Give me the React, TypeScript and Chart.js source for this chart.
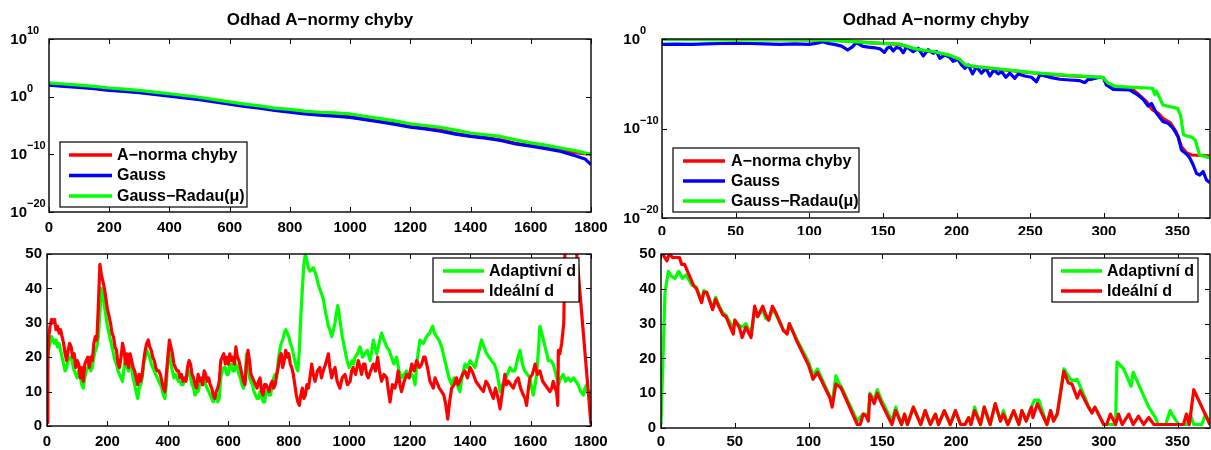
import React, { useEffect, useRef } from "react";
import { Chart, registerables } from "chart.js";

Chart.register(...registerables);

type Pt = [number, number];

// ---------------- Titles / labels ----------------
const TOP_TITLE = "Odhad A−normy chyby";
const LBL_NORM = "A−norma chyby";
const LBL_GAUSS = "Gauss";
const LBL_RADAU = "Gauss−Radau(μ)";
const LBL_ADAPT = "Adaptivní d";
const LBL_IDEAL = "Ideální d";

// ---------------- Tick values ----------------
const xTicksLong = [0, 200, 400, 600, 800, 1000, 1200, 1400, 1600, 1800];
const xTicksShort = [0, 50, 100, 150, 200, 250, 300, 350];
const yTicksLogLeft = [1e-20, 1e-10, 1, 1e10];
const yTicksLogRight = [1e-20, 1e-10, 1];
const yTicksLin = [0, 10, 20, 30, 40, 50];

// ---------------- Top-left: [iteration, log10(value)] ----------------
const tlNormLog: Pt[] = [
  [0, 2.1], [50, 1.9], [100, 1.7], [150, 1.5], [200, 1.2], [250, 1.0], [300, 0.8], [350, 0.5],
  [400, 0.2], [450, -0.1], [500, -0.4], [550, -0.8], [600, -1.2], [650, -1.6], [700, -1.9],
  [750, -2.3], [800, -2.6], [850, -2.9], [900, -3.1], [950, -3.3], [1000, -3.5], [1050, -3.9],
  [1100, -4.3], [1150, -4.7], [1200, -5.2], [1250, -5.5], [1300, -5.8], [1350, -6.4], [1400, -6.8],
  [1450, -7.1], [1500, -7.5], [1550, -8.1], [1600, -8.5], [1650, -8.9], [1700, -9.3], [1750, -9.7],
  [1800, -10.0],
];
const tlGaussLog: Pt[] = [
  [0, 2.0], [50, 1.8], [100, 1.6], [150, 1.4], [200, 1.1], [250, 0.9], [300, 0.7], [350, 0.4],
  [400, 0.1], [450, -0.2], [500, -0.5], [550, -0.9], [600, -1.3], [650, -1.7], [700, -2.0],
  [750, -2.4], [800, -2.7], [850, -3.0], [900, -3.2], [950, -3.4], [1000, -3.6], [1050, -4.0],
  [1100, -4.4], [1150, -4.8], [1200, -5.3], [1250, -5.6], [1300, -6.0], [1350, -6.5], [1400, -6.9],
  [1450, -7.2], [1500, -7.6], [1550, -8.2], [1600, -8.6], [1650, -9.0], [1700, -9.5], [1750, -10.3],
  [1780, -10.8], [1800, -11.8],
];
const tlRadauLog: Pt[] = [
  [0, 2.4], [50, 2.2], [100, 2.0], [150, 1.8], [200, 1.5], [250, 1.3], [300, 1.1], [350, 0.8],
  [400, 0.5], [450, 0.2], [500, -0.1], [550, -0.5], [600, -0.9], [650, -1.3], [700, -1.6],
  [750, -2.0], [800, -2.2], [850, -2.5], [900, -2.7], [950, -2.8], [1000, -3.0], [1050, -3.4],
  [1100, -3.8], [1150, -4.2], [1200, -4.7], [1250, -5.0], [1300, -5.3], [1350, -5.8], [1400, -6.3],
  [1450, -6.6], [1500, -6.9], [1550, -7.5], [1600, -8.0], [1650, -8.4], [1700, -8.9], [1750, -9.4],
  [1800, -10.0],
];

// ---------------- Top-right: [iteration, log10(value)] ----------------
const trNormLog: Pt[] = [
  [0, -0.05], [20, -0.05], [40, -0.06], [60, -0.07], [80, -0.08], [100, -0.1], [110, -0.12],
  [120, -0.18], [130, -0.3], [140, -0.4], [150, -0.5], [161, -0.6], [172, -1.15], [184, -1.45],
  [195, -1.85], [202, -2.3], [206, -2.95], [214, -3.15], [229, -3.4], [252, -3.8], [275, -4.1],
  [299, -4.3], [302, -4.95], [308.5, -5.4], [320, -5.68], [324, -6.26], [329, -7.0], [333, -7.93],
  [337, -8.3], [340, -8.86], [345, -9.35], [349, -10.36], [352.6, -12.0], [356, -12.7],
  [359.4, -12.96], [372, -13.07],
];
const trGaussLog: Pt[] = [
  [0, -0.6], [10, -0.58], [20, -0.6], [30, -0.55], [40, -0.5], [50, -0.48], [60, -0.5], [70, -0.55],
  [80, -0.6], [90, -0.55], [100, -0.6], [106, -0.45], [109, -0.3], [113, -0.5], [117, -0.6],
  [122, -0.8], [126, -1.23], [129, -0.9], [132, -0.4], [136, -0.8], [140, -0.9], [145, -1.0],
  [148, -1.1], [151, -1.5], [153, -1.0], [155, -0.9], [157, -1.35], [159, -0.95], [161.5, -1.04],
  [163.8, -1.53], [166, -0.86], [170.5, -1.42], [174, -1.04], [177.3, -1.9], [180.7, -1.2],
  [184.1, -1.6], [186.4, -1.4], [188.6, -2.16], [192, -1.79], [195.4, -2.05], [197.7, -2.5],
  [201, -2.27], [203.3, -2.9], [205.6, -3.28], [207.9, -2.9], [210.8, -3.9], [213.5, -3.1],
  [216.9, -3.82], [219.9, -3.28], [222.6, -4.13], [225.3, -3.46], [228.2, -3.9], [230.5, -3.63],
  [233.4, -4.28], [236.1, -3.82], [239.5, -4.39], [241.8, -3.9], [246.3, -4.13], [250.8, -4.28],
  [254.2, -4.77], [256.5, -4.0], [263.3, -4.28], [270.1, -4.5], [276.9, -4.58], [283.6, -4.65],
  [287, -4.88], [289.3, -4.5], [291.6, -4.5], [297.2, -4.28], [299.5, -4.3], [301.7, -5.14],
  [306.3, -5.62], [317.6, -5.7], [322.1, -6.15], [326.6, -6.74], [330, -7.5], [332.3, -7.2],
  [335.7, -8.3], [340.2, -9.24], [343.6, -9.4], [347, -9.98], [350.4, -10.9], [352.6, -12.4],
  [356, -12.85], [358.3, -13.3], [360.6, -14.08], [362.8, -15.0], [365.1, -15.2], [367.3, -14.8],
  [369.6, -15.75], [372, -16.05],
];
const trRadauLog: Pt[] = [
  [0, -0.05], [20, -0.05], [40, -0.06], [60, -0.07], [80, -0.08], [100, -0.1], [110, -0.12],
  [120, -0.18], [130, -0.3], [140, -0.4], [150, -0.48], [161, -0.56], [172, -1.1], [184, -1.4],
  [195, -1.8], [202, -2.27], [206, -2.9], [214, -3.1], [229, -3.35], [252, -3.75], [275, -4.05],
  [299, -4.28], [303, -4.95], [308, -5.3], [320, -5.4], [333, -5.5], [334.5, -6.2], [335.5, -5.8],
  [337, -6.3], [340, -7.37], [350, -7.75], [352, -8.5], [354, -10.7], [360, -11.0], [362, -11.3],
  [365, -12.96], [372, -13.3],
];

// ---------------- Bottom-left: [iteration, d] ----------------
const blAdaptive: Pt[] = [
  [0, 17], [5, 22], [10, 24], [15, 26], [20, 25], [25, 24], [30, 25], [35, 23], [40, 24], [45, 22],
  [50, 20], [55, 18], [60, 16], [65, 17], [70, 19], [75, 20], [80, 20], [85, 18], [90, 16], [95, 15],
  [100, 14], [105, 16], [110, 15], [115, 12], [120, 11], [125, 14], [130, 16], [135, 17], [140, 18],
  [145, 16], [150, 17], [155, 20], [160, 22], [165, 23], [170, 26], [175, 33], [180, 40], [185, 38],
  [190, 35], [195, 32], [200, 29], [205, 27], [210, 25], [215, 23], [220, 21], [225, 19], [230, 18],
  [235, 16], [240, 15], [245, 14], [250, 13], [255, 17], [260, 20], [265, 17], [270, 16], [275, 18],
  [280, 17], [285, 14], [290, 12], [295, 10], [300, 8], [305, 11], [310, 12], [315, 14], [320, 18],
  [325, 20], [330, 22], [335, 21], [340, 20], [345, 18], [350, 17], [355, 16], [360, 15], [365, 14],
  [370, 13], [375, 12], [380, 11], [385, 9], [390, 8], [395, 12], [400, 20], [405, 21], [410, 18],
  [415, 16], [420, 14], [425, 15], [430, 14], [435, 13], [440, 13], [445, 12], [450, 12], [455, 13],
  [460, 14], [465, 15], [470, 16], [475, 14], [480, 12], [485, 11], [490, 9], [495, 10], [500, 10],
  [505, 12], [510, 12], [515, 13], [520, 14], [525, 12], [530, 11], [535, 10], [540, 9], [545, 8],
  [550, 7], [555, 9], [560, 9], [565, 7], [570, 8], [575, 14], [580, 16], [585, 17], [590, 17],
  [595, 15], [600, 15], [605, 18], [610, 18], [615, 16], [620, 16], [625, 18], [630, 17], [635, 15],
  [640, 14], [645, 12], [650, 11], [655, 13], [660, 21], [665, 18], [670, 14], [675, 13], [680, 12],
  [685, 10], [690, 9], [695, 8], [700, 8], [705, 10], [710, 9], [715, 7], [720, 7], [725, 10],
  [730, 10], [735, 9], [740, 9], [745, 12], [750, 14], [755, 15], [760, 14], [765, 19], [770, 22],
  [775, 24], [780, 25], [785, 27], [790, 28], [795, 27], [800, 26], [805, 24], [810, 23], [815, 21],
  [820, 19], [825, 17], [830, 16], [835, 22], [840, 32], [845, 40], [850, 47], [855, 50], [860, 48],
  [865, 46], [870, 45], [881, 46], [890, 44], [898, 41], [906, 39], [914, 37], [922, 33], [931, 29],
  [936, 28], [942, 26], [948, 28], [953, 30], [958, 33], [962, 35], [966, 33], [969, 31], [977, 26],
  [986, 22], [993, 19], [1000, 17], [1005, 18], [1010, 19], [1015, 18], [1019, 20], [1027, 21],
  [1036, 23], [1044, 20], [1052, 21], [1060, 22], [1069, 19], [1075, 22], [1080, 25], [1085, 23],
  [1091, 21], [1099, 24], [1107, 27], [1115, 25], [1124, 23], [1132, 22], [1140, 20], [1148, 18],
  [1157, 20], [1165, 16], [1173, 14], [1181, 15], [1190, 16], [1198, 14], [1207, 15], [1213, 14],
  [1218, 12], [1226, 20], [1234, 25], [1245, 24], [1256, 26], [1266, 27], [1276, 29], [1282, 27],
  [1289, 26], [1297, 25], [1306, 23], [1314, 20], [1322, 17], [1330, 14], [1339, 12], [1347, 14],
  [1355, 13], [1361, 11], [1366, 10], [1375, 15], [1383, 18], [1391, 17], [1400, 19], [1408, 18],
  [1416, 17], [1427, 21], [1438, 25], [1446, 23], [1455, 21], [1463, 20], [1471, 19], [1480, 18],
  [1488, 16], [1494, 13], [1499, 10], [1507, 12], [1515, 13], [1523, 15], [1532, 17], [1540, 16],
  [1548, 16], [1556, 19], [1565, 22], [1573, 18], [1581, 16], [1590, 15], [1598, 14], [1604, 11],
  [1609, 9], [1615, 12], [1620, 15], [1626, 22], [1631, 29], [1640, 26], [1648, 23], [1654, 21],
  [1659, 19], [1667, 19], [1675, 18], [1684, 15], [1692, 12], [1700, 14], [1708, 15], [1716, 13],
  [1725, 14], [1733, 13], [1742, 14], [1750, 13], [1758, 12], [1766, 10], [1775, 9], [1780, 11],
  [1786, 12], [1790, 10], [1795, 10], [1800, 8],
];
const blIdeal: Pt[] = [
  [0, 1], [3, 20], [6, 26], [10, 29], [15, 31], [20, 30], [25, 31], [30, 28], [35, 29], [40, 27],
  [45, 28], [50, 26], [55, 24], [60, 21], [65, 19], [70, 22], [75, 24], [80, 23], [85, 20], [90, 21],
  [95, 17], [100, 19], [105, 18], [110, 14], [115, 17], [120, 13], [125, 18], [130, 19], [135, 20],
  [140, 17], [145, 20], [150, 19], [155, 24], [160, 26], [165, 25], [170, 35], [175, 47], [180, 44],
  [185, 42], [190, 40], [195, 37], [200, 34], [205, 32], [210, 30], [215, 27], [220, 26], [225, 23],
  [230, 22], [235, 18], [240, 17], [245, 20], [250, 24], [255, 22], [260, 18], [265, 21], [270, 17],
  [275, 21], [280, 19], [285, 17], [290, 16], [295, 14], [300, 12], [305, 15], [310, 13], [315, 15],
  [320, 19], [325, 22], [330, 24], [335, 25], [340, 23], [345, 22], [350, 20], [355, 19], [360, 17],
  [365, 16], [370, 16], [375, 15], [380, 13], [385, 11], [390, 10], [395, 15], [400, 20], [405, 25],
  [410, 23], [415, 21], [420, 18], [425, 17], [430, 16], [435, 16], [440, 14], [445, 15], [450, 13],
  [455, 14], [460, 13], [465, 17], [470, 19], [475, 18], [480, 15], [485, 14], [490, 12], [495, 11],
  [500, 15], [505, 13], [510, 14], [515, 12], [520, 16], [525, 15], [530, 13], [535, 14], [540, 12],
  [545, 11], [550, 9], [555, 8], [560, 10], [565, 11], [570, 13], [575, 19], [580, 20], [585, 21],
  [590, 18], [595, 20], [600, 18], [605, 21], [610, 19], [615, 20], [620, 18], [625, 23], [630, 20],
  [635, 19], [640, 17], [645, 15], [650, 13], [655, 12], [660, 18], [665, 22], [670, 19], [675, 15],
  [680, 14], [685, 13], [690, 12], [695, 11], [700, 13], [705, 14], [710, 10], [715, 9], [720, 12],
  [725, 12], [730, 11], [735, 10], [740, 12], [745, 13], [750, 11], [755, 12], [760, 15], [765, 17],
  [770, 20], [775, 21], [780, 17], [785, 19], [790, 22], [795, 20], [800, 21], [805, 18], [810, 17],
  [815, 15], [820, 12], [825, 9], [830, 7], [835, 6], [840, 9], [845, 11], [850, 8], [855, 9],
  [860, 12], [865, 11], [870, 14], [876, 18], [881, 15], [887, 13], [895, 16], [903, 17], [908, 14],
  [914, 16], [922, 18], [931, 21], [936, 17], [942, 14], [948, 16], [953, 17], [960, 13], [969, 11],
  [977, 14], [986, 15], [994, 12], [1003, 13], [1008, 16], [1013, 17], [1021, 15], [1030, 19],
  [1036, 17], [1041, 15], [1047, 18], [1052, 18], [1058, 15], [1063, 14], [1071, 16], [1080, 18],
  [1087, 16], [1094, 20], [1100, 16], [1107, 13], [1115, 15], [1124, 14], [1130, 10], [1135, 7],
  [1143, 12], [1151, 11], [1157, 13], [1162, 16], [1168, 12], [1173, 10], [1182, 13], [1190, 15],
  [1198, 14], [1207, 18], [1215, 16], [1223, 19], [1232, 17], [1240, 18], [1246, 20], [1251, 20],
  [1259, 17], [1267, 13], [1273, 12], [1278, 11], [1284, 14], [1289, 13], [1298, 11], [1306, 10],
  [1313, 9], [1320, 6], [1326, 2], [1332, 7], [1339, 11], [1347, 12], [1355, 14], [1360, 12],
  [1366, 13], [1375, 15], [1383, 16], [1391, 14], [1400, 17], [1406, 16], [1411, 15], [1419, 13],
  [1427, 12], [1435, 11], [1444, 10], [1452, 13], [1460, 12], [1468, 10], [1477, 8], [1484, 11],
  [1490, 9], [1495, 7], [1499, 5], [1507, 10], [1515, 15], [1520, 12], [1526, 13], [1535, 12],
  [1543, 11], [1551, 13], [1559, 14], [1567, 11], [1576, 9], [1582, 8], [1587, 6], [1593, 11],
  [1598, 14], [1606, 15], [1615, 18], [1623, 15], [1631, 16], [1640, 13], [1648, 12], [1656, 11],
  [1664, 10], [1670, 11], [1675, 13], [1681, 11], [1686, 10], [1690, 6], [1692, 22], [1697, 21],
  [1703, 24], [1710, 30], [1714, 52], [1730, 60], [1748, 55], [1800, 0.5],
];

// ---------------- Bottom-right: [iteration, d] ----------------
const brAdaptive: Pt[] = [
  [0, 1], [2.7, 39], [5, 45], [7, 43.6], [9.5, 43], [12, 45], [14.5, 43], [17, 44], [21, 41],
  [24, 40.5], [27.5, 36.5], [29, 39.5], [31, 39], [35, 34.5], [37, 37.5], [39, 35.5], [42, 33],
  [44, 32.5], [49, 28.5], [50, 31], [53, 29.5], [55, 29], [57.5, 30], [61, 27], [63.5, 34],
  [65.5, 32], [69, 34], [71, 31.5], [73, 31], [75.5, 34], [78, 32.5], [83, 28], [85.5, 27.5],
  [87, 30], [92, 25.5], [100, 19], [103, 15], [106, 17], [114.5, 9], [116, 7], [118.5, 15],
  [120.5, 13], [122, 12], [133, 2], [135, 3], [137, 4], [139, 4], [140.5, 3], [141.5, 10],
  [144.5, 8], [146.5, 11], [149.5, 8], [156.5, 2], [159, 6], [163, 1], [165, 4], [167, 1], [171, 6],
  [176, 1], [179, 5], [182.5, 1], [186, 4], [188, 1], [192, 5], [196, 1], [199.5, 5], [203, 1],
  [206, 1], [208.5, 3], [210, 1], [212.5, 6], [216.5, 1], [219, 6], [223, 1], [226.5, 7], [230, 2],
  [232, 5], [235, 1], [239, 5], [242.5, 1], [244.5, 5], [247.5, 2], [251, 6], [253, 8], [256, 8],
  [261.5, 1], [264, 5], [266, 2], [268.5, 4], [273, 17], [276, 15], [278.5, 13.5], [282, 14],
  [285, 11], [290, 6], [292, 4.5], [294, 6], [300, 1], [308, 1], [309, 19], [313.5, 17],
  [318.5, 12], [320, 16], [330.5, 6], [335, 3], [337, 1], [342, 1], [345, 5], [348.5, 2.4],
  [351, 1], [356.5, 1], [358.5, 4], [361, 1], [366.5, 1], [369, 4], [372, 1],
];
const brIdeal: Pt[] = [
  [1, 50], [4, 48], [5.5, 50], [8, 49], [12.5, 49], [14, 47], [16, 47], [22, 41], [24, 40],
  [27.5, 36], [29, 39], [31, 39], [35, 34], [37, 37], [39, 35], [42, 32.5], [44, 32], [49, 27],
  [50, 31], [53, 29], [55, 26], [57.5, 29], [61, 26], [63.5, 35], [65.5, 32], [69, 35], [71, 32.5],
  [73, 31], [75.5, 35], [78, 33], [83, 28], [85.5, 27], [87, 30], [92, 25], [100, 18], [103, 14],
  [106, 16], [114.5, 8.6], [116, 6], [118.5, 12.6], [120.5, 12], [122, 11.5], [133, 1], [135, 1],
  [137, 4], [139, 3.4], [140.5, 2], [141.5, 9.6], [144.5, 7], [146.5, 10], [149.5, 7], [156.5, 1],
  [159, 5], [163, 1], [165, 4], [167, 1], [171, 6], [176, 1], [179, 5], [182.5, 1], [186, 4],
  [188, 1], [192, 5], [196, 1], [199.5, 5], [203, 1], [206, 1], [208.5, 3], [210, 1], [212.5, 5],
  [216.5, 1], [219, 6], [223, 1], [226.5, 7], [230, 2], [232, 4], [235, 1], [239, 5], [242.5, 1],
  [244.5, 5], [247.5, 2], [251, 6], [252, 3], [255, 7], [261.5, 1], [264, 5], [266, 2], [268.5, 4],
  [273, 16.3], [276, 13], [278.5, 12.6], [282, 8.6], [284, 10.7], [290, 5.7], [292, 4.3], [294, 6],
  [300, 1], [302, 1], [304.5, 4], [308, 1], [310, 4], [312.5, 1], [317, 4], [320, 1], [323.5, 3.4],
  [327, 1], [330.5, 3], [334, 1], [354, 1], [356, 4], [358, 1], [361, 11], [372, 1],
];

// ---------------- Rendering ----------------
const FONT = "'Liberation Sans', Arial, Helvetica, sans-serif";
const RED = "#ff0000";
const BLUE = "#0000ff";
const GREEN = "#00ff00";

Chart.defaults.font.family = FONT;
Chart.defaults.color = "#000";

const toPts = (a: Pt[], log: boolean) => a.map(([x, y]) => ({ x, y: log ? Math.pow(10, y) : y }));

const framePlugin = {
  id: "matlabFrame",
  afterDraw(chart: any, _args: any, opts: any) {
    const { ctx, chartArea: a } = chart;
    const xs = chart.scales.x;
    const ys = chart.scales.y;
    ctx.save();
    // inward tick marks on all four sides
    ctx.strokeStyle = "#000";
    ctx.lineWidth = 1;
    ctx.beginPath();
    for (const t of xs.ticks) {
      const px = Math.round(xs.getPixelForValue(t.value)) + 0.5;
      ctx.moveTo(px, a.bottom);
      ctx.lineTo(px, a.bottom - 5);
      ctx.moveTo(px, a.top);
      ctx.lineTo(px, a.top + 5);
    }
    for (const t of ys.ticks) {
      const py = Math.round(ys.getPixelForValue(t.value)) + 0.5;
      ctx.moveTo(a.left, py);
      ctx.lineTo(a.left + 5, py);
      ctx.moveTo(a.right, py);
      ctx.lineTo(a.right - 5, py);
    }
    ctx.stroke();
    // axes box
    ctx.lineWidth = 1.5;
    ctx.strokeStyle = "#111";
    ctx.strokeRect(a.left, a.top, a.right - a.left, a.bottom - a.top);

    // power-of-ten tick labels for log axes
    if (opts.logLabels) {
      ctx.fillStyle = "#000";
      ctx.textBaseline = "middle";
      for (const t of ys.ticks) {
        const py = ys.getPixelForValue(t.value);
        const e = Math.round(Math.log10(t.value));
        const baseRight = a.left - 22;
        ctx.font = `bold 15px ${FONT}`;
        ctx.textAlign = "right";
        ctx.fillText("10", baseRight, py + 0.5);
        ctx.font = `bold 11px ${FONT}`;
        ctx.textAlign = "left";
        ctx.fillText(e < 0 ? "−" + String(-e) : String(e), baseRight, py - 8);
      }
    }

    // legend box
    const lg = opts.legend;
    if (lg) {
      const [x1, y1, x2, y2] = lg.box;
      ctx.fillStyle = "#fff";
      ctx.fillRect(x1, y1, x2 - x1, y2 - y1);
      ctx.lineWidth = 1.2;
      ctx.strokeStyle = "#000";
      ctx.strokeRect(x1, y1, x2 - x1, y2 - y1);
      lg.items.forEach((idx: number, i: number) => {
        const ds = chart.data.datasets[idx];
        const y = lg.rows[i];
        ctx.strokeStyle = ds.borderColor;
        ctx.lineWidth = 3.5;
        ctx.beginPath();
        ctx.moveTo(lg.line[0], y);
        ctx.lineTo(lg.line[1], y);
        ctx.stroke();
        ctx.fillStyle = "#000";
        ctx.font = `bold 16px ${FONT}`;
        ctx.textAlign = "left";
        ctx.textBaseline = "middle";
        ctx.fillText(ds.label, lg.textX, y + 0.5);
      });
    }
    ctx.restore();
  },
};

function buildConfig(spec: any) {
  const tickFont = { size: 15, weight: "bold" as const, family: FONT };
  return {
    type: "line",
    data: {
      datasets: spec.datasets.map((d: any) => ({
        label: d.label,
        data: d.data,
        borderColor: d.color,
        backgroundColor: d.color,
        borderWidth: 3.2,
        pointRadius: 0,
        tension: 0,
        fill: false,
        order: d.order,
        borderJoinStyle: "round",
      })),
    },
    options: {
      animation: false,
      responsive: false,
      maintainAspectRatio: false,
      events: [],
      layout: { padding: spec.padding, autoPadding: false },
      plugins: {
        legend: { display: false },
        tooltip: { enabled: false },
        title: spec.title
          ? {
              display: true,
              text: spec.title,
              color: "#000",
              fullSize: false,
              font: { size: 17, weight: "bold", family: FONT, lineHeight: "20px" },
              padding: { top: 10, bottom: 9 },
            }
          : { display: false },
        matlabFrame: { logLabels: spec.yLog, legend: spec.legend },
      },
      scales: {
        x: {
          type: "linear",
          min: 0,
          max: spec.xMax,
          grid: { display: false, drawTicks: false },
          border: { display: false },
          ticks: {
            font: tickFont,
            color: "#000",
            padding: spec.xPad,
            maxRotation: 0,
            autoSkip: false,
            callback: (v: any) => String(v),
          },
          afterBuildTicks: (s: any) => {
            s.ticks = spec.xTicks.map((v: number) => ({ value: v }));
          },
          afterFit: (s: any) => {
            s.height = spec.xHeight;
            s.paddingLeft = 0;
            s.paddingRight = 0;
          },
        },
        y: {
          type: spec.yLog ? "logarithmic" : "linear",
          min: spec.yMin,
          max: spec.yMax,
          grid: { display: false, drawTicks: false },
          border: { display: false },
          ticks: {
            display: !spec.yLog,
            font: tickFont,
            color: "#000",
            padding: 5,
            autoSkip: false,
            callback: (v: any) => String(v),
          },
          afterBuildTicks: (s: any) => {
            s.ticks = spec.yTicks.map((v: number) => ({ value: v }));
          },
          afterFit: (s: any) => {
            s.width = spec.yWidth;
            s.paddingTop = 0;
            s.paddingBottom = 0;
          },
        },
      },
    },
    plugins: [framePlugin],
  };
}

const panels: any[] = [
  {
    key: "tl",
    left: 0, top: 0, width: 625, height: 235,
    padding: { left: 0, right: 34, top: 0, bottom: 0 },
    yWidth: 49, xHeight: 23, xPad: 7,
    title: TOP_TITLE,
    xMax: 1800, xTicks: xTicksLong,
    yLog: true, yMin: 1e-20, yMax: 1e10, yTicks: yTicksLogLeft,
    datasets: [
      { label: LBL_NORM, color: RED, data: toPts(tlNormLog, true), order: 2 },
      { label: LBL_GAUSS, color: BLUE, data: toPts(tlGaussLog, true), order: 1 },
      { label: LBL_RADAU, color: GREEN, data: toPts(tlRadauLog, true), order: 0 },
    ],
    legend: { box: [60, 142, 247, 207], rows: [155, 175.5, 196], line: [69, 112], textX: 117, items: [0, 1, 2] },
  },
  {
    key: "tr",
    left: 605, top: 0, width: 606, height: 235,
    padding: { left: 0, right: 1, top: 0, bottom: 0 },
    yWidth: 57, xHeight: 17, xPad: 5,
    title: TOP_TITLE,
    xMax: 372, xTicks: xTicksShort,
    yLog: true, yMin: 1e-20, yMax: 1, yTicks: yTicksLogRight,
    datasets: [
      { label: LBL_NORM, color: RED, data: toPts(trNormLog, true), order: 2 },
      { label: LBL_GAUSS, color: BLUE, data: toPts(trGaussLog, true), order: 1 },
      { label: LBL_RADAU, color: GREEN, data: toPts(trRadauLog, true), order: 0 },
    ],
    legend: { box: [68, 148, 254, 212], rows: [161, 181, 201], line: [78, 120], textX: 126, items: [0, 1, 2] },
  },
  {
    key: "bl",
    left: 0, top: 235, width: 625, height: 215,
    padding: { left: 0, right: 34, top: 19, bottom: 0 },
    yWidth: 47, xHeight: 24, xPad: 7,
    xMax: 1800, xTicks: xTicksLong,
    yLog: false, yMin: 0, yMax: 50, yTicks: yTicksLin,
    datasets: [
      { label: LBL_ADAPT, color: GREEN, data: toPts(blAdaptive, false), order: 1 },
      { label: LBL_IDEAL, color: RED, data: toPts(blIdeal, false), order: 0 },
    ],
    legend: { box: [433, 23, 579, 67], rows: [36, 56], line: [443, 484], textX: 489, items: [0, 1] },
  },
  {
    key: "br",
    left: 605, top: 235, width: 606, height: 215,
    padding: { left: 0, right: 1, top: 19, bottom: 0 },
    yWidth: 56, xHeight: 22, xPad: 5,
    xMax: 372, xTicks: xTicksShort,
    yLog: false, yMin: 0, yMax: 50, yTicks: yTicksLin,
    datasets: [
      { label: LBL_ADAPT, color: GREEN, data: toPts(brAdaptive, false), order: 1 },
      { label: LBL_IDEAL, color: RED, data: toPts(brIdeal, false), order: 0 },
    ],
    legend: { box: [447, 23, 593, 67], rows: [36, 56], line: [456, 497], textX: 502, items: [0, 1] },
  },
];

function Panel({ spec }: { spec: any }) {
  const ref = useRef<HTMLCanvasElement | null>(null);
  useEffect(() => {
    if (!ref.current) return;
    const chart = new Chart(ref.current, buildConfig(spec) as any);
    return () => chart.destroy();
  }, [spec]);
  return (
    <canvas
      ref={ref}
      width={spec.width}
      height={spec.height}
      style={{ position: "absolute", left: spec.left, top: spec.top, width: spec.width, height: spec.height }}
    />
  );
}

export default function App() {
  return (
    <div style={{ position: "fixed", left: 0, top: 0, width: 1211, height: 450, background: "#fff", overflow: "hidden" }}>
      {panels.map((p) => (
        <Panel key={p.key} spec={p} />
      ))}
    </div>
  );
}
